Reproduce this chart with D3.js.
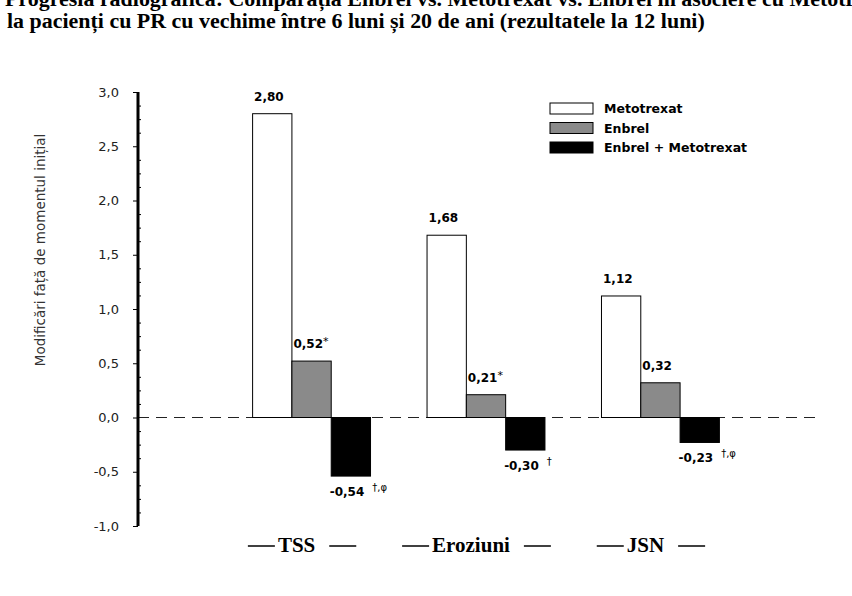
<!DOCTYPE html>
<html><head><meta charset="utf-8">
<script src="https://cdn.jsdelivr.net/npm/d3@7"></script>
<style>
html,body{margin:0;padding:0;background:#fff;}
svg{display:block;}
</style>
</head><body>
<svg id="chart" width="852" height="596"></svg>
<script>
const categories = ["TSS", "Eroziuni", "JSN"];
const seriesNames = ["Metotrexat", "Enbrel", "Enbrel + Metotrexat"];
const metotrexat = [2.80, 1.68, 1.12];
const enbrel = [0.52, 0.21, 0.32];
const enbrelMet = [-0.54, -0.30, -0.23];
const metotrexatNotes = ["", "", ""];
const enbrelNotes = ["*", "*", ""];
const enbrelMetNotes = ["†,φ", "†", "†,φ"];
const yTickValues = [3, 2.5, 2, 1.5, 1, 0.5, 0, -0.5, -1];
const yTickLabels = ["3,0", "2,5", "2,0", "1,5", "1,0", "0,5", "0,0", "-0,5", "-1,0"];
const yLabel = "Modificări față de momentul inițial";
const titleLines = [
  "Progresia radiografică: Comparația Enbrel vs. Metotrexat vs. Enbrel în asociere cu Metotrexat",
  "la pacienți cu PR cu vechime între 6 luni și 20 de ani (rezultatele la 12 luni)"
];

const seriesValues = [metotrexat, enbrel, enbrelMet];
const seriesNotes = [metotrexatNotes, enbrelNotes, enbrelMetNotes];
const seriesFill = ["#ffffff", "#8a8a8a", "#000000"];

const svg = d3.select("#chart");
const sans = "'DejaVu Sans', Verdana, sans-serif";
const serif = "'Liberation Serif', 'Times New Roman', serif";

// Title
const tg = svg.append("g");
const t2 = tg.append("text").attr("x", 0).attr("y", 0)
  .attr("font-family", serif).attr("font-weight", "bold").attr("font-size", 22)
  .text(titleLines[1]);
const natural = t2.node().getComputedTextLength();
const ratio = 698 / natural;
t2.attr("transform", `translate(7,28) scale(${ratio},1)`);
tg.append("text").attr("x", 0).attr("y", 0)
  .attr("font-family", serif).attr("font-weight", "bold").attr("font-size", 22)
  .attr("transform", `translate(5,6) scale(${ratio},1)`)
  .text(titleLines[0]);

// Scales
const x0 = d3.scaleBand().domain(categories).range([138, 834])
  .paddingInner(0.324).paddingOuter(0.657);
const x1 = d3.scaleBand().domain(seriesNames).range([0, x0.bandwidth()]);
const y = d3.scaleLinear().domain([-1, 3]).range([526, 92]);

// Zero dashed line
svg.append("line")
  .attr("x1", 138).attr("x2", 820).attr("y1", y(0)).attr("y2", y(0))
  .attr("stroke", "#222").attr("stroke-width", 1).attr("stroke-dasharray", "11,7");

// Bars
const rows = [];
categories.forEach((c, i) => {
  seriesNames.forEach((s, j) => {
    rows.push({cat: c, ser: s, j: j, v: seriesValues[j][i], note: seriesNotes[j][i]});
  });
});

const groups = svg.append("g");
groups.selectAll("rect").data(rows).enter().append("rect")
  .attr("x", d => x0(d.cat) + x1(d.ser))
  .attr("y", d => y(Math.max(0, d.v)))
  .attr("width", x1.bandwidth())
  .attr("height", d => Math.abs(y(d.v) - y(0)))
  .attr("fill", d => seriesFill[d.j])
  .attr("stroke", "#000").attr("stroke-width", 1);

// Value labels
const fmt = v => d3.format(".2f")(v).replace(".", ",").replace("−", "-");
const lab = svg.append("g").selectAll("text").data(rows).enter().append("text")
  .attr("font-family", sans).attr("font-weight", "bold").attr("font-size", 12)
  .attr("fill", "#000")
  .attr("x", d => x0(d.cat) + x1(d.ser) + (d.v >= 0 ? 1.5 : -1.5))
  .attr("y", d => d.v >= 0 ? y(d.v) - 13 : y(d.v) + 20);
lab.append("tspan").text(d => fmt(d.v));
lab.filter(d => d.note !== "").append("tspan")
  .attr("font-weight", "normal").attr("fill", "#000")
  .attr("font-size", d => d.v >= 0 ? 11 : 10)
  .attr("dx", d => d.v >= 0 ? 0 : 8)
  .attr("dy", d => d.v >= 0 ? -3 : -5)
  .text(d => d.note);

// Y axis
const axisX = 138;
const yAxis = d3.axisLeft(y).tickValues(yTickValues)
  .tickFormat((d, i) => yTickLabels[i]).tickSize(5).tickPadding(14);
const ag = svg.append("g").attr("transform", `translate(${axisX},0)`).call(yAxis);
ag.select(".domain").remove();
ag.selectAll(".tick line").attr("stroke", "#000");
ag.selectAll(".tick text").attr("font-family", sans).attr("font-size", 13)
  .attr("fill", "#222");

const minor = d3.range(-1, 3.0001, 0.125).filter(v => Math.abs(v * 2 - Math.round(v * 2)) > 1e-6);
const minorAxis = d3.axisRight(y).tickValues(minor).tickSize(3).tickFormat("");
const mg = svg.append("g").attr("transform", `translate(${axisX},0)`).call(minorAxis);
mg.select(".domain").remove();
mg.selectAll(".tick line").attr("stroke", "#000");

svg.append("line").attr("x1", axisX).attr("x2", axisX)
  .attr("y1", y(3)).attr("y2", y(-1))
  .attr("stroke", "#000").attr("stroke-width", 3);

// Y label
svg.append("text")
  .attr("transform", `translate(45,250) rotate(-90)`)
  .attr("text-anchor", "middle")
  .attr("font-family", sans).attr("font-size", 13.5).attr("fill", "#333")
  .text(yLabel);

// Category labels with dashes
categories.forEach(c => {
  const cx = x0(c) + x0.bandwidth() / 2 - 15;
  const t = svg.append("text")
    .attr("x", cx).attr("y", 552).attr("text-anchor", "middle")
    .attr("font-family", serif).attr("font-weight", "bold").attr("font-size", 21)
    .attr("fill", "#000").text(c);
  const w = t.node().getComputedTextLength();
  const l = cx - w / 2, r = cx + w / 2;
  svg.append("line").attr("x1", l - 30).attr("x2", l - 3).attr("y1", 546).attr("y2", 546)
    .attr("stroke", "#000").attr("stroke-width", 1.5);
  svg.append("line").attr("x1", r + 14).attr("x2", r + 41).attr("y1", 546).attr("y2", 546)
    .attr("stroke", "#000").attr("stroke-width", 1.5);
});

// Legend
const lg = svg.append("g").selectAll("g").data(seriesNames).enter().append("g")
  .attr("transform", (d, i) => `translate(550,${103 + i * 19.5})`);
lg.append("rect").attr("width", 43).attr("height", 11)
  .attr("fill", (d, i) => seriesFill[i]).attr("stroke", "#000").attr("stroke-width", 1);
lg.append("text").attr("x", 54).attr("y", 10)
  .attr("font-family", sans).attr("font-weight", "bold").attr("font-size", 12.5)
  .attr("fill", "#000").text(d => d);
</script>
</body></html>
